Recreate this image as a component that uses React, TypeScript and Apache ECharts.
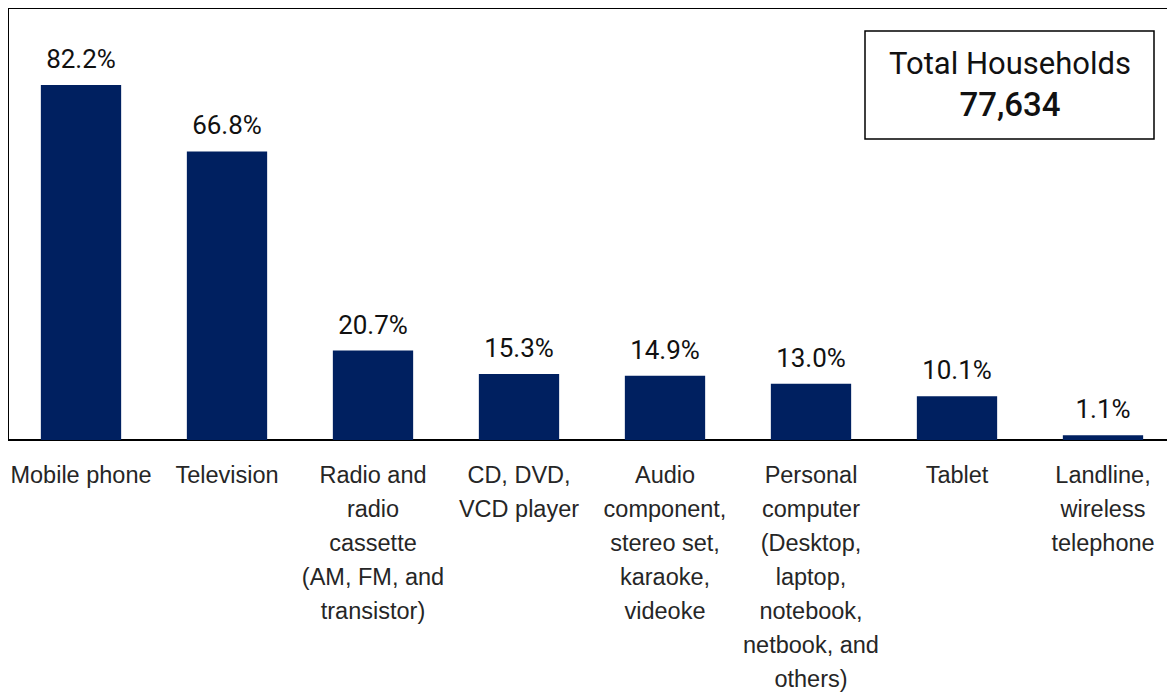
import React, { useEffect, useRef } from "react";
import * as echarts from "echarts";

const categories: string[] = [
  "Mobile phone",
  "Television",
  "Radio and\nradio\ncassette\n(AM, FM, and\ntransistor)",
  "CD, DVD,\nVCD player",
  "Audio\ncomponent,\nstereo set,\nkaraoke,\nvideoke",
  "Personal\ncomputer\n(Desktop,\nlaptop,\nnotebook,\nnetbook, and\nothers)",
  "Tablet",
  "Landline,\nwireless\ntelephone",
];

const shares: number[] = [82.2, 66.8, 20.7, 15.3, 14.9, 13.0, 10.1, 1.1];

const boxTitle = "Total Households";
const boxValue = "77,634";

export default function App() {
  const ref = useRef<HTMLDivElement>(null);

  useEffect(() => {
    if (!ref.current) return;
    const chart = echarts.init(ref.current, null, { renderer: "svg" });
    chart.setOption({
      animation: false,
      backgroundColor: "#ffffff",
      grid: {
        left: 0,
        top: 0,
        width: 1168,
        height: 432,
        containLabel: false,
        outerBoundsMode: "none",
        show: true,
        borderColor: "#000000",
        borderWidth: 2,
        backgroundColor: "transparent",
      },
      xAxis: {
        type: "category",
        data: categories,
        axisLine: { show: true, lineStyle: { color: "#000000", width: 2 } },
        axisTick: { show: false },
        axisLabel: {
          interval: 0,
          margin: 18,
          color: "#262626",
          fontFamily: "'Liberation Sans', Arial, sans-serif",
          fontSize: 23.5,
          lineHeight: 34,
          align: "center",
          hideOverlap: false,
        },
      },
      yAxis: {
        type: "value",
        min: 0,
        max: 100,
        show: false,
        splitLine: { show: false },
      },
      series: [
        {
          type: "bar",
          data: shares,
          barCategoryGap: "45%",
          itemStyle: { color: "#002060" },
          label: {
            show: true,
            position: "top",
            distance: 13,
            formatter: (p: any) => p.value.toFixed(1) + "%",
            color: "#111111",
            fontFamily: "Roboto, sans-serif",
            fontWeight: 400,
            fontSize: 26,
          },
        },
      ],
      graphic: [
        {
          type: "rect",
          shape: { x: 857, y: 23, width: 289, height: 108 },
          style: { fill: "#ffffff", stroke: "#000000", lineWidth: 1.5 },
          z: 10,
        },
        {
          type: "text",
          x: 1002,
          y: 55,
          z: 11,
          style: {
            text: boxTitle,
            fill: "#111111",
            fontFamily: "Roboto, sans-serif",
            fontWeight: 400,
            fontSize: 31,
            align: "center",
            verticalAlign: "middle",
          },
        },
        {
          type: "text",
          x: 1002,
          y: 96,
          z: 11,
          style: {
            text: boxValue,
            fill: "#111111",
            fontFamily: "Roboto, sans-serif",
            fontWeight: 500,
            fontSize: 33,
            align: "center",
            verticalAlign: "middle",
          },
        },
      ],
    });
    return () => chart.dispose();
  }, []);

  return <div ref={ref} style={{ width: 1167, height: 685 }} />;
}
